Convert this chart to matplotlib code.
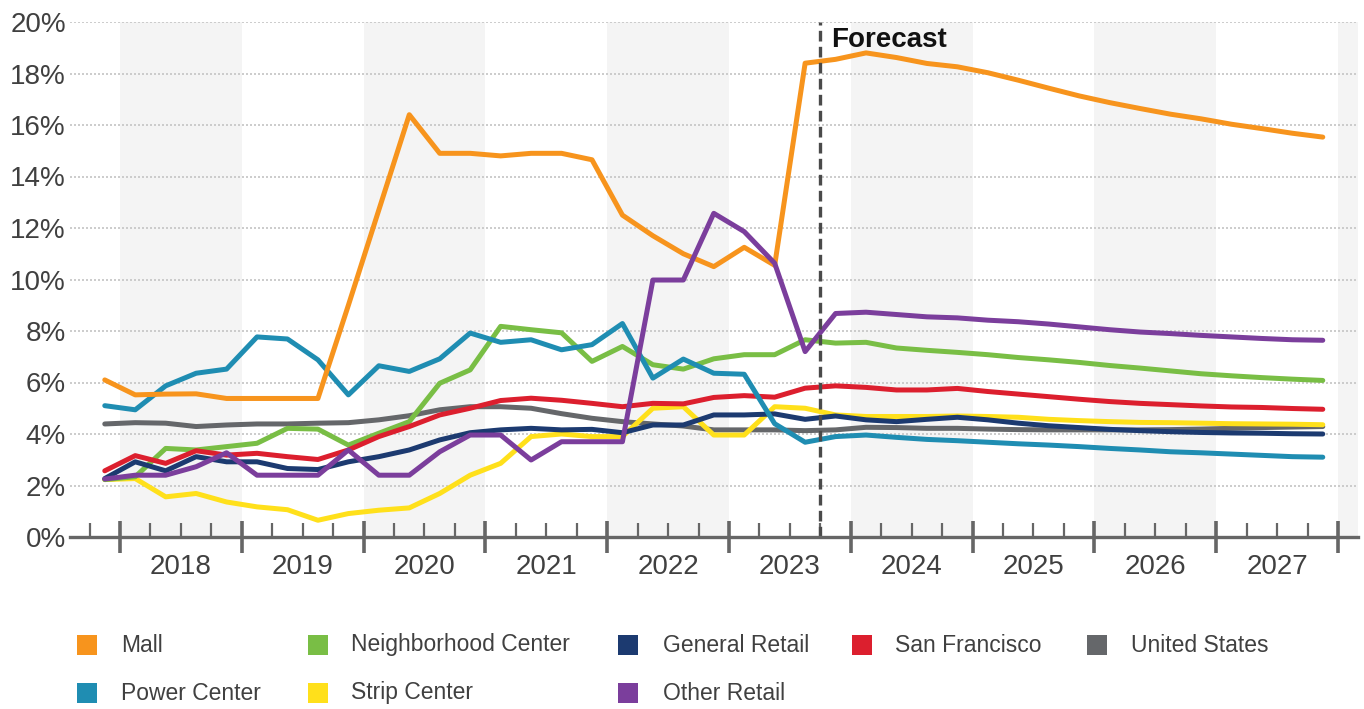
import matplotlib
matplotlib.use("Agg")
import matplotlib.pyplot as plt
import matplotlib.transforms as mtransforms
from matplotlib.patches import Rectangle
import pandas as pd

plt.rcParams['font.family'] = ['Liberation Sans', 'DejaVu Sans']

# ---------------- data ----------------
quarters = pd.period_range('2017Q4', '2027Q4', freq='Q')
years = [2018, 2019, 2020, 2021, 2022, 2023, 2024, 2025, 2026, 2027]
forecast_start = '2023Q4'

mall = [6.10, 5.52, 5.55, 5.56, 5.38, 5.38, 5.38, 5.38, 9.0, 12.7, 16.4,
        14.9, 14.9, 14.8, 14.9, 14.9, 14.65, 12.5, 11.7, 11.0, 10.5, 11.25,
        10.55, 18.4, 18.55, 18.8, 18.62, 18.39, 18.26, 18.03, 17.74, 17.43,
        17.13, 16.87, 16.64, 16.42, 16.24, 16.03, 15.86, 15.68, 15.53]
power_center = [5.10, 4.94, 5.87, 6.36, 6.52, 7.77, 7.69, 6.88, 5.52, 6.65,
                6.43, 6.92, 7.92, 7.56, 7.66, 7.27, 7.47, 8.29, 6.17, 6.91,
                6.36, 6.32, 4.40, 3.68, 3.90, 3.96, 3.87, 3.79, 3.74, 3.68,
                3.62, 3.57, 3.51, 3.44, 3.38, 3.31, 3.27, 3.22, 3.17, 3.12, 3.10]
united_states = [4.39, 4.44, 4.42, 4.29, 4.35, 4.39, 4.39, 4.42, 4.44, 4.55,
                 4.71, 4.94, 5.06, 5.06, 5.00, 4.79, 4.61, 4.48, 4.39, 4.31,
                 4.16, 4.16, 4.16, 4.13, 4.16, 4.26, 4.25, 4.22, 4.22, 4.19,
                 4.17, 4.16, 4.16, 4.16, 4.16, 4.17, 4.19, 4.22, 4.25, 4.27, 4.29]
neighborhood_center = [2.23, 2.34, 3.44, 3.38, 3.51, 3.64, 4.22, 4.19, 3.57,
                       4.03, 4.48, 5.97, 6.49, 8.18, 8.05, 7.93, 6.82, 7.40,
                       6.69, 6.52, 6.92, 7.08, 7.08, 7.66, 7.53, 7.56, 7.34,
                       7.25, 7.17, 7.08, 6.97, 6.88, 6.78, 6.66, 6.56, 6.45,
                       6.34, 6.26, 6.19, 6.13, 6.08]
san_francisco = [2.57, 3.16, 2.86, 3.35, 3.18, 3.25, 3.12, 3.01, 3.38, 3.90,
                 4.29, 4.74, 5.00, 5.30, 5.39, 5.31, 5.19, 5.06, 5.19, 5.17,
                 5.42, 5.49, 5.43, 5.78, 5.87, 5.81, 5.71, 5.71, 5.77, 5.65,
                 5.55, 5.45, 5.35, 5.26, 5.19, 5.14, 5.09, 5.05, 5.03, 4.99, 4.96]
general_retail = [2.27, 2.92, 2.57, 3.12, 2.92, 2.92, 2.66, 2.62, 2.92, 3.12,
                  3.38, 3.77, 4.05, 4.16, 4.22, 4.16, 4.18, 4.05, 4.35, 4.35,
                  4.74, 4.74, 4.78, 4.57, 4.70, 4.55, 4.48, 4.57, 4.65, 4.55,
                  4.42, 4.32, 4.25, 4.18, 4.13, 4.09, 4.06, 4.04, 4.03, 4.01, 4.00]
strip_center = [2.23, 2.27, 1.56, 1.69, 1.36, 1.17, 1.06, 0.65, 0.91, 1.04,
                1.13, 1.69, 2.40, 2.86, 3.90, 4.00, 3.90, 3.90, 5.00, 5.06,
                3.96, 3.96, 5.06, 5.00, 4.74, 4.68, 4.68, 4.68, 4.70, 4.68,
                4.65, 4.57, 4.52, 4.48, 4.45, 4.44, 4.42, 4.40, 4.39, 4.38, 4.36]
other_retail = [2.25, 2.40, 2.40, 2.73, 3.27, 2.40, 2.40, 2.40, 3.38, 2.40,
                2.40, 3.31, 3.96, 3.96, 2.99, 3.70, 3.70, 3.70, 9.98, 9.98,
                12.57, 11.86, 10.63, 7.20, 8.68, 8.73, 8.64, 8.55, 8.51, 8.42,
                8.36, 8.27, 8.16, 8.05, 7.96, 7.90, 7.83, 7.77, 7.71, 7.66, 7.64]

y_ticks = [0, 2, 4, 6, 8, 10, 12, 14, 16, 18, 20]

series = [
    ('Mall', mall, '#F7941D'),
    ('Neighborhood Center', neighborhood_center, '#79BE45'),
    ('General Retail', general_retail, '#1C3A70'),
    ('San Francisco', san_francisco, '#DC1F2E'),
    ('United States', united_states, '#65676A'),
    ('Power Center', power_center, '#1F8DB2'),
    ('Strip Center', strip_center, '#FFE01B'),
    ('Other Retail', other_retail, '#7B3E9C'),
]

# quarter centres in fractional years
x = [p.year + (p.quarter - 0.5) / 4 for p in quarters]
fp = pd.Period(forecast_start, freq='Q')
x_forecast = fp.year + (fp.quarter - 1) / 4

W, H = 1364, 709
fig = plt.figure(figsize=(W / 100, H / 100), dpi=100)
fig.patch.set_facecolor('white')
ax = fig.add_axes([70 / W, 1 - 537 / H, (1358 - 70) / W, (537 - 22) / H])

x0 = years[0] - 50 / 121.8
x1 = years[0] + 1238 / 121.8
ax.set_xlim(x0, x1)
ax.set_ylim(0, 20)

# alternating year bands
for yr in range(years[0], years[-1] + 2):
    if yr % 2 == 0:
        ax.axvspan(yr, yr + 1, color='#f4f4f4', zorder=0, lw=0)

# grid
for yv in y_ticks[1:]:
    ax.axhline(yv, color='#c4c4c4', lw=1.2, ls=(0, (1.2, 1.2)), zorder=1)

text_color = '#404040'
axis_color = '#666666'

# lines (draw order so that main overlaps resemble the reference)
draw_order = ['United States', 'Strip Center', 'Neighborhood Center',
              'General Retail', 'San Francisco', 'Power Center',
              'Mall', 'Other Retail']
lookup = {n: (v, c) for n, v, c in series}
for z, name in enumerate(draw_order):
    vals, col = lookup[name]
    ax.plot(x, vals, color=col, lw=3.6, solid_capstyle='round',
            solid_joinstyle='round', zorder=3 + z, clip_on=False)

# forecast divider
ax.axvline(x_forecast, color='#4a4a4a', lw=2.4, ls=(0, (3.2, 1.6)), zorder=20)
ax.text(x_forecast + 0.09, 19.3, 'Forecast', fontsize=20, fontweight='bold',
        color='#111111', ha='left', va='center', zorder=21)

# spines & ticks
for s in ['top', 'right', 'left']:
    ax.spines[s].set_visible(False)
ax.spines['bottom'].set_color(axis_color)
ax.spines['bottom'].set_linewidth(2.4)
ax.spines['bottom'].set_zorder(25)

ax.set_yticks(y_ticks)
ax.set_yticklabels([f'{v}%' for v in y_ticks], fontsize=20, color=text_color)
ax.tick_params(axis='y', length=0, pad=3)

major_x = list(range(years[0], years[-1] + 2))
minor_x = [yr + q / 4 for yr in range(years[0] - 1, years[-1] + 1)
           for q in range(1, 4)]
ax.set_xticks(major_x)
ax.set_xticklabels([''] * len(major_x))
ax.set_xticks([m for m in minor_x if x0 < m < x1], minor=True)
ax.tick_params(axis='x', which='major', direction='inout', length=23,
               width=2.6, color=axis_color)
ax.tick_params(axis='x', which='minor', direction='in', length=10,
               width=1.6, color=axis_color)

trans = mtransforms.blended_transform_factory(ax.transData, ax.transAxes)
for yr in years:
    ax.text(yr + 0.5, -30 / 515, str(yr), transform=trans, fontsize=20,
            color=text_color, ha='center', va='center')

# legend (manual layout)
legend_layout = [
    ('Mall', 77, 121, 645), ('Neighborhood Center', 308, 351, 645),
    ('General Retail', 618, 663, 645), ('San Francisco', 852, 895, 645),
    ('United States', 1087, 1131, 645),
    ('Power Center', 77, 121, 693), ('Strip Center', 308, 351, 693),
    ('Other Retail', 618, 663, 693),
]
for name, sx, tx, cy in legend_layout:
    col = lookup[name][1]
    fig.add_artist(Rectangle((sx / W, 1 - (cy + 10) / H), 20 / W, 20 / H,
                             transform=fig.transFigure, facecolor=col,
                             edgecolor='none'))
    fig.text(tx / W, 1 - cy / H, name, fontsize=16.5, color=text_color,
             ha='left', va='center')

fig.savefig('out.png', dpi=100, facecolor='white')
